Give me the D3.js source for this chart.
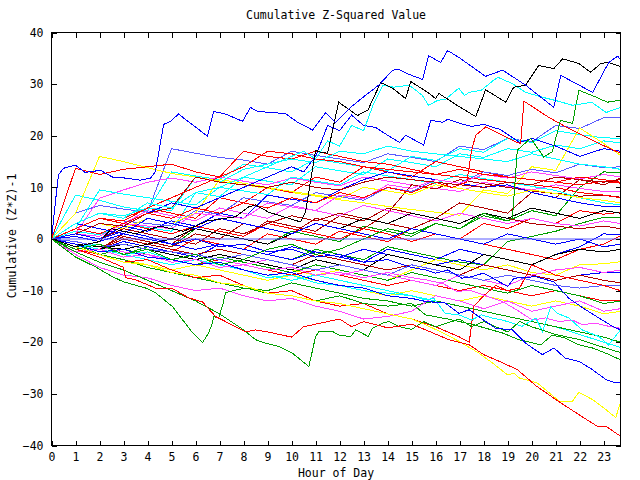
<!DOCTYPE html>
<html><head><meta charset="utf-8">
<script src="https://cdn.jsdelivr.net/npm/d3@7"></script>
<style>body{margin:0;background:#fff}svg{display:block}text{font-family:"DejaVu Sans Mono",monospace;font-size:11.5px;fill:#000}</style>
</head><body><svg id="c" width="640" height="480"></svg>
<script>
const titleText = "Cumulative Z-Squared Value";
const xLabelText = "Hour of Day";
const yLabelText = "Cumulative (Z*Z)-1";
const xTickValues = d3.range(0, 24);
const yTickValues = [-40, -30, -20, -10, 0, 10, 20, 30, 40];
const hourGrid = [0,1,2,3,4,5,6,7,8,9,10,11,12,13,14,15,16,17,18,19,20,21,22,23,23.7];

const R = "#ff0000", G = "#00a000", B = "#0000ff", M = "#ff44ff", C = "#00ffff",
      DR = "#b00000", Y = "#ffff00", K = "#000000", LB = "#5a5aff";

// Traced series: [hour, value] pairs
const sA = [[0,0],[0.17,7.5],[0.29,12.4],[0.5,13.7],[1,14.3],[1.4,12.9],[2.04,13.3],[2.54,12],[3.08,11.8],[3.7,11.4],[4.13,11.8],[4.33,13.1],[4.67,22.2],[4.96,22.8],[5.29,24.2],[6.5,19.9],[6.75,24.7],[7.25,24.2],[7.96,22.8],[8.29,25.5],[8.58,24.7],[9.75,24.3],[10.25,22.6],[10.88,21.1],[11.42,24.5],[11.83,22.6],[12.46,25.5],[12.96,27.4],[13.63,29.8],[14.21,32.7],[14.46,32.9],[14.88,31.9],[15.46,30.9],[15.71,35.5],[16.21,34.2],[16.5,36.5],[16.96,35.2],[18.08,31.5],[18.79,32.7],[19.75,29.8],[20.92,25.5],[21.21,31.7],[22.54,28.4],[23.21,34.2],[23.58,35.4],[23.7,34.8]];
const sB = [[0,0],[1,-1.5],[2,-0.5],[2.5,2],[3.5,1],[4.5,2.5],[5.5,1.5],[6.5,3.5],[7.67,4.3],[8.21,6.2],[8.5,6.6],[9.04,5.2],[9.67,4.3],[10.38,3.3],[10.58,5.2],[11,17.2],[11.21,16.8],[11.5,16.6],[11.96,26.5],[12.75,23.9],[12.96,24.5],[13.17,24.9],[13.71,30.3],[14.21,29.2],[14.75,27.2],[14.96,30.5],[15.67,28.4],[16,27.2],[16.13,28.2],[16.96,25.7],[17.67,23.7],[18.08,28.9],[18.92,26.5],[19.25,29.4],[19.75,29.8],[20.29,33.6],[20.92,33],[21.29,34.9],[21.96,34],[22.46,32.3],[22.88,34],[23.21,34.2],[23.7,33.4]];
const sC = [[0,0],[1,3],[2,5],[3,4],[4,7],[5,6],[6,9],[7,10],[8,12],[9,14],[10,16],[10.5,17],[11,15.5],[11.5,19],[12,18],[12.5,22],[13,21],[13.4,26],[13.8,29.8],[14.25,29.4],[14.9,29.8],[15.45,27.8],[15.7,25.9],[16.1,26.9],[16.4,27],[16.96,29.2],[17.2,27.8],[17.4,28.4],[17.9,28.8],[18.4,30.7],[18.6,31.3],[19.2,30.1],[19.75,28.4],[20.5,27.4],[21.1,26.7],[21.7,25.9],[22.25,26.3],[22.5,26.5],[23.1,24.5],[23.7,25.5]];
const sD = [[0,0],[1,-2],[2,-1],[3,-3],[4,-2],[5,-4],[6,-3],[7,-5],[8,-4],[9,-2],[10,-1],[11,-3],[12,-2],[13,0],[14,2],[15,1],[16,3],[17,2],[18,5],[19,3.5],[19.2,4],[19.4,17.2],[19.96,19.5],[20.5,15.9],[20.86,16.9],[21.2,23],[21.7,22.4],[21.97,28.8],[22.67,27.5],[23.15,26.5],[23.7,26.9]];
const sE = [[0,0],[1,2],[2,4],[3,3],[4,5],[5,4],[6,6],[7,5],[8,7],[9,6],[10,8],[11,7],[12,9],[13,8],[14,10],[15,9],[16,11],[16.67,10],[17.3,11],[17.5,17.2],[17.67,20.1],[18.08,21.7],[19.33,18.8],[19.54,18.5],[19.68,26.7],[20.7,23.6],[21.55,21.4],[22.8,18.5],[23.7,16.6]];
const sF = [[0,0],[1,-2],[2,-3.5],[3,-5.5],[3.08,-7.5],[3.5,-7.9],[4.33,-9.5],[5,-9.5],[5.71,-11.4],[6.29,-12.2],[6.83,-15],[7.25,-16],[8.08,-18],[8.5,-17.6],[9,-18],[10,-19],[10.5,-17],[11,-16.5],[12,-15.5],[12.5,-17],[13,-16],[14,-17.2],[15,-16.5],[15.58,-17.6],[16.55,-19.5],[17.4,-20.5],[18,-22.4],[18.8,-24],[19.4,-25.3],[20.2,-28.5],[21.1,-31.4],[21.76,-33.4],[22.4,-35.3],[22.74,-36.3],[23.1,-36.3],[23.7,-38.2]];
const sYb = [[0,0],[1,-1.5],[2,-3],[3,-4.5],[4,-5],[5,-6.5],[6,-7],[7,-8.5],[8,-9],[9,-10.5],[10,-11],[11,-12],[12,-12.5],[13,-13.5],[14,-14.5],[15,-15.5],[15.58,-16.6],[16.3,-18.2],[16.97,-19.8],[17.8,-22.1],[18.36,-24],[18.99,-26.3],[19.26,-26],[19.47,-26.9],[20.24,-27.9],[21.14,-31.4],[21.7,-31.4],[21.97,-29.7],[22.53,-31.1],[23.08,-33],[23.5,-34.6],[23.7,-31.7]];
const sBb = [[0,0],[1,-1],[2,-2.5],[3,-2],[4,-3.5],[5,-4],[6,-5],[7,-4.5],[8,-6],[9,-7],[10,-6.5],[11,-8],[12,-9],[13,-9.5],[14,-11],[15,-11.5],[15.58,-12.1],[16.4,-12.4],[16.97,-14.4],[17.4,-13.7],[18,-15.7],[18.5,-17.3],[19.2,-17.6],[19.75,-20.2],[20.45,-22.4],[20.93,-21.1],[21.4,-23.1],[21.97,-23.7],[22.53,-25.3],[23.08,-27.2],[23.5,-27.9],[23.7,-27.8]];
const sG1 = [[0,0],[1,-3.5],[1.83,-5.4],[2.54,-7.3],[3,-8.3],[3.92,-9.5],[4.33,-10.4],[5.04,-13.1],[5.88,-18.2],[6.29,-20.1],[6.54,-18.2],[6.71,-16.2],[6.75,-15],[6.96,-15.3],[7.13,-12.8],[7.25,-10.4],[7.67,-9.9],[8.08,-9.5],[9,-10.5],[10,-11],[11,-12],[12,-11],[13,-12.5],[14,-13],[15,-12.5],[15.58,-14.7],[16.5,-15.5],[17.5,-16.5],[18.78,-18.2],[19.47,-19.5],[20.38,-20.5],[20.86,-18.6],[21.4,-19.2],[21.97,-20.5],[22.53,-21.1],[23.08,-22.1],[23.7,-23.4]];
const sG2 = [[0,0],[1,-2.5],[2,-4.5],[3,-6],[4,-8],[5,-10],[6,-12],[7,-14.5],[8,-17.6],[8.5,-19.5],[8.92,-20.2],[9.47,-20.8],[10.03,-22.1],[10.72,-24.7],[11,-18.9],[11.14,-17.9],[11.7,-17.9],[11.97,-18.6],[12.46,-18.9],[12.67,-17.6],[13.2,-18.9],[13.36,-17.3],[13.78,-16.3],[14.05,-16],[14.5,-17],[15,-17.5],[15.5,-16],[16,-17],[17,-15.5],[17.5,-17],[18,-16],[19,-18],[19.5,-16],[20,-17],[21,-18.5],[22,-19.5],[23,-21],[23.7,-22]];
const sCb = [[0,0],[1,-1.5],[2,-1],[3,-3],[4,-2.5],[5,-4],[6,-5],[7,-4.5],[8,-6],[9,-7.5],[10,-7],[11,-8.5],[12,-9],[13,-10],[14,-10.5],[15,-11],[15.58,-11.8],[15.93,-11.5],[16.4,-14.4],[16.97,-14.7],[17.5,-15.7],[17.9,-14.7],[18.36,-15.3],[18.78,-15.7],[19.2,-16.3],[19.6,-16.9],[20.17,-15.3],[20.45,-17.9],[20.8,-13.1],[21.07,-14.4],[21.55,-15.3],[22.1,-17.6],[22.8,-18.9],[23.2,-20.5],[23.7,-17.6]];
const sBm = [[0,0],[1,1],[2,0],[3,1.5],[4,0.5],[5,-1],[6,0],[7,-1.5],[8,-1],[9,-2.5],[10,-2],[11,-3.5],[12,-3],[13,-4.5],[14,-4],[15,-5.5],[15.58,-6],[16,-6.6],[16.5,-6],[17.1,-7.6],[17.5,-7.3],[18,-6.6],[18.5,-7.9],[19,-9.2],[19.26,-7.6],[20.17,-7.3],[20.93,-8.3],[21.55,-11.5],[22.25,-13.7],[22.8,-15.3],[23.36,-16.9],[23.7,-17.6]];
const sMb = [[0,0],[0.5,-1.5],[1,-2.5],[2,-2],[3,-3.5],[4,-3],[5,-4.5],[6,-4],[7,-5.5],[8,-5],[9,-6],[10,-5.5],[11,-7],[12,-6.5],[13,-7.5],[14,-6.5],[15,-7.5],[15.58,-7.9],[16.3,-8.6],[16.9,-10.2],[17.4,-9.9],[18.78,-12.1],[19.47,-14],[20.03,-15.7],[20.58,-15.3],[21.14,-16],[21.7,-15.7],[22.1,-16.6],[22.67,-16.3],[23.2,-16.9],[23.7,-17.3]];
const sH = [[0,0],[1,2],[2,4],[3,3],[4,5],[5,7],[6,6],[7,8],[8,10],[9,12],[10,14],[10.5,13],[11,16],[11.5,22],[12,21],[12.5,24],[13,22],[13.5,21.6],[14,20.1],[14.5,18.7],[14.75,20.1],[15.5,18.2],[15.8,23],[16.3,22.6],[16.5,23.2],[17,22.4],[17.5,21.8],[18,22.2],[18.7,21.2],[19.5,18.7],[20,19.5],[21,18],[22,16],[23,17.5],[23.7,17]];
const sR2 = [[0,0],[1,-2],[2,-3],[3,-4.5],[4,-4],[5,-6],[6,-7.5],[7,-7],[8,-9],[9,-10.5],[10,-10],[11,-12],[12,-13],[13,-12.5],[14,-14.5],[15,-15.5],[16,-17],[17,-19],[17.4,-20],[17.6,-13],[18,-11],[18.5,-9],[19,-10],[19.5,-9.5],[20,-5],[21,-7],[22,-8],[23,-9],[23.7,-10]];

// Hourly series (values at hourGrid)
const g1 = [0,5,6.5,5.8,5.2,17.5,16.6,15.8,15.3,14.5,17,16.2,15.5,14.8,16.5,15.8,15,18,17.3,19.5,18.8,22,21.4,23.5,23.6];
const g2 = [0,8.5,7.5,6.2,5.5,13,12.2,11.5,14.5,13.8,13,15.5,14.7,14,13.2,16,15.2,17.5,16.8,19.5,18.7,21,20.2,19.6,19.5];
const g3 = [0,1.5,0.8,3,2.2,1.5,9,8.2,12,11.2,10.5,14,13.2,12.5,15.5,14.8,14,16.5,15.8,17.5,16.8,18.2,17.5,19,18.6];
const g4 = [0,5,16,15,13.8,12.7,12,11.2,10.5,9.8,9,8.3,7.6,7,6.3,5.7,5.2,4.6,9.5,8.8,14,13.3,21.5,18.5,16.2];
const g5 = [0,-1,-2,0.5,-0.5,-1.5,2,1,0,-1,1.5,0.5,-0.5,2.5,1.5,0.5,3,2,4.5,3.5,5.5,4.5,10,13,12.8];
const g6 = [0,-1,-2,1,0,-1,2.5,1.5,0.5,3.5,2.5,1.5,4.5,3.5,6,5,4,7,6,5,9,8,11.5,10.5,11.8];
const g7 = [0,3,5,4,6,5,4,8,7,10,9,12,11,14,13,12,15,14,13,12,11.5,11,10.5,11.2,10.8];
const g8 = [0,1,7.9,9.5,11,11.8,11,12,11.2,10.5,11.8,11,10.3,12,11.2,10.5,9.8,9.2,11,10.2,9.5,10.5,9.8,9.2,9.1];
const g9 = [0,-1,-2,0.5,-0.5,-1.5,1,0,3,2,1,4,3,2,5,10.5,9.7,11.5,10.7,10,9.3,8.8,8.3,8.5,8.1];
const g10 = [0,2,9.5,8.7,8,7.3,6.6,10,9.3,8.6,12,11.2,10.5,13,12.2,11.5,10.8,12.5,11.7,11,10.2,9.4,8,7,6.6];
const g11 = [0,1,0,2.5,1.5,3.5,2.5,5,4,8.5,7.7,7,9.5,11.5,13,12.2,11.5,10.8,10,10.5,9,8,7,6.3,6.2];
const g12 = [0,-1,-2,-0.5,-1.5,-2.5,0,-1,-2,1,0,-1,1.5,0.5,-0.5,2,1,0,3,2,4,3,5.5,4.8,5.2];
const g13 = [0,-1,-2,-3,-1.5,-2.5,-3.5,-1,-2,-3,-4,-2,-3,-4,-1.5,-2.5,-3.5,-4.5,-5,-0.5,0.5,1.5,3,4.2,4.1];
const g14 = [0,-1,-2,-0.5,-1.5,-2.5,-3.5,-1,-2,-3,-4,-2.5,-3.5,-4.5,-2,-3,-4,-2,-3,-4,-5,-3,-1.5,1,0.8];
const g15 = [0,2,1,3,2,1,2.5,1.5,0.5,3,2,1,0,2,1,-0.5,1,0,-1,-2,-3,-4,-2,-1,0.6];
const g16 = [0,-1,-2,-1,-2,-3,-4,-5,-4,-5,-6,-7,-6,-7,-8,-6,-4,-5,-6,-5,-6.5,-7,-5,-4.8,-4.4];
const g17 = [0,0.5,-0.5,1,0,-1,-2,-1,-2,-3,-1.5,-2.5,-3.5,-2,-3,-4,-5,-4,-5,-6,-7,-8,-7,-6.5,-6.4];
const g18 = [0,-1,-2,0,-1,-2,-3,-2,-3,-4,-5,-3,-4,-5,-6,-5,-6,-7,-5,-6,-7,-8,-7,-8,-8.5];
const g19 = [0,-2,-3,-2,-3,-4,-5,-4,-5,-6,-7,-6,-7,-8,-9,-8,-9,-10,-9,-10,-11,-10,-11,-12,-12];
const g20 = [0,-1,-2,-1,-2,-3,-4,-3,-4,-5,-6,-4,-5,-6,-3,-4,-5,-6,-3,-4,-5,-3,-2,-2.5,-2];
const g21 = [0,2,4,3,5.5,4.5,3.5,6,5,4,6.5,5.5,4.5,6.5,5.5,4.5,3.5,5,4,3,4,3,2.5,3.5,3];
const g22 = [0,2,4,3.5,3,2.5,5.5,4.8,8,7.2,6.5,9,8.2,7.5,10,9.2,11.5,10.8,13,12.3,13.5,12.8,14.5,13.8,14];
const g23 = [0,-1,-3,-2,-3,-4,-5,-3.5,-4.5,-5.5,-6.5,-5,-6,-7,-8,-6.5,-7.5,-8.5,-9.5,-10.5,-9,-10,-11,-12.5,-12];
const g24 = [0,-2,-3,-4,-5,-6,-5,-6,-7,-8,-7,-8,-9,-10,-11,-10,-11,-12,-11,-12,-13,-12,-13,-14.5,-14];
const g25 = [0,-1,-2,-3,-4,-5,-4,-5,-6,-7,-8,-7,-8,-9,-10,-11,-12,-13,-14,-15,-16,-17,-18.5,-20,-21];
const g26 = [0,1,3,2,4,3,5,11.5,10.8,10,9.2,8.5,7.8,10,9.3,8.6,10.5,9.8,9,8.3,9.5,8.8,8,7.5,7];
const g27 = [0,-1,-1.5,-2.5,-3,-4,-3,-4,-5,-4,-5,-6,-7,-6,-7,-8,-9,-7,-8,-9,-7,-6,-5.5,-6.5,-6];
const g28 = [0,1,0,2,1,0,-1,2,1,3,4.5,3.5,5,4,3,2,4,3,5,4,3,2.5,2,2.5,2];
const g29 = [0,-0.5,-1.5,-1,-2,-2.5,-3,-4,-3,-4,-5,-6,-5,-6,-7,-5,-6,-7,-8,-7,-8,-9,-9.5,-9,-9];
const g30 = [0,13.7,12.5,13.5,14,14.5,13,12,17,16,15.5,17,16,15,14.5,13.5,12.5,12,11.5,11,10.5,10,9,8.5,8];
const g31 = [0,-1.5,-3,-4,-5.5,-6.5,-7.5,-8.5,-9.5,-10,-8.5,-9.5,-10.5,-11.5,-12,-13,-12,-13,-14,-15,-16,-17,-18,-19,-20];
const g32 = [0,1,0.5,3,2.5,2,5,4.5,4,7,6.2,5.5,8.5,7.8,10.5,9.8,11.5,10.8,12.5,11.8,13,12.3,11.6,12.5,12];
const g33 = [0,-1,-1.5,-2,-1,0,2,1,0,-1,1,3,2,4,3,5,4,3,5,4,6,5,4,5.5,5];
const g34 = [0,3,2,1,4,3,2,4,3,2,1,3,2,1,0,2,1,0,-1,1,0,-1,0,-1.5,-1];
const g35 = [0,-3,-5.5,-7,-7.5,-9,-10,-9.5,-11,-12,-11.5,-13,-14,-15.5,-15,-14,-11,-12,-13.5,-12,-14,-13,-12,-14,-13.5];
const g36 = [0,3,5,4.5,6,5.5,12,11,13.5,14.5,15.5,14.8,17,16.5,18,17,16.5,16,15.5,15,16.5,15.5,14.5,14,13.5];
const g37 = [0,1,3,2.5,5,6,12,11,10.5,10,11,10,9.5,11,12,11.5,11,10.5,10,11,10.5,12,11.5,11,11.5];
const g38 = [0,2,4,3.5,6,8,10,12,14,17,16.5,15.5,15,14,13.5,13,12.5,13.5,12.5,12,11.5,11,12,11.5,11];

const hourlySeries = [g1,g2,g3,g4,g5,g6,g7,g8,g9,g10,g11,g12,g13,g14,g15,g16,g17,g18,g19,g20,g21,g22,g23,g24,g25,g26,g27,g28,g29,g30,g31,g32,g33,g34,g35,g36,g37,g38];
const hourlyColors = [LB,C,C,Y,G,DR,R,M,DR,C,B,R,G,B,R,Y,B,DR,R,K,M,LB,G,Y,C,Y,M,DR,LB,R,G,M,K,B,M,C,DR,R];
const tracedSeries = [sR2,sH,sMb,sBm,sCb,sG2,sG1,sBb,sYb,sF,sE,sD,sC,sB,sA];
const tracedColors = [R,B,M,B,C,G,G,B,Y,R,R,G,C,K,B];

const svg = d3.select("#c");
const L = 51.5, Rt = 620.5, T = 32.5, Bt = 445.5;
const x = d3.scaleLinear().domain([0, 23.7]).range([L, Rt]);
const y = d3.scaleLinear().domain([-40, 40]).range([Bt, T]);

svg.append("defs").append("clipPath").attr("id","clip")
  .append("rect").attr("x", L).attr("y", T).attr("width", Rt - L).attr("height", Bt - T);

const line = d3.line().x(d => x(d[0])).y(d => y(d[1]));
const g = svg.append("g").attr("clip-path", "url(#clip)");

const all = [];
hourlySeries.forEach((vals, i) => all.push({pts: vals.map((v, j) => [hourGrid[j], v]), color: hourlyColors[i]}));
tracedSeries.forEach((pts, i) => all.push({pts, color: tracedColors[i]}));

g.selectAll("path.s").data(all).join("path").attr("class","s")
  .attr("d", d => line(d.pts)).attr("fill","none").attr("stroke", d => d.color)
  .attr("stroke-width", 1).attr("shape-rendering","crispEdges");

g.append("path").attr("d", line([[0,0],[23.7,0]])).attr("stroke", LB).attr("stroke-width",1).attr("fill","none");

const fmt = d3.format("d");
const ax = (a) => a.tickSizeOuter(0);
svg.append("g").attr("transform", `translate(0,${Bt})`)
  .call(ax(d3.axisBottom(x).tickValues(xTickValues).tickFormat(fmt).tickSizeInner(-5).tickPadding(7)));
svg.append("g").attr("transform", `translate(0,${T})`)
  .call(ax(d3.axisTop(x).tickValues(xTickValues).tickFormat("").tickSizeInner(-5)));
svg.append("g").attr("transform", `translate(${L},0)`)
  .call(ax(d3.axisLeft(y).tickValues(yTickValues).tickFormat(fmt).tickSizeInner(-5).tickPadding(8)));
svg.append("g").attr("transform", `translate(${Rt},0)`)
  .call(ax(d3.axisRight(y).tickValues(yTickValues).tickFormat("").tickSizeInner(-5)));
svg.selectAll(".domain").remove();
svg.selectAll(".tick line").attr("stroke","#000").attr("shape-rendering","crispEdges");
svg.selectAll(".tick text").attr("font-family", null).attr("font-size", null).style("fill","#000");

svg.append("rect").attr("x", L).attr("y", T).attr("width", Rt - L).attr("height", Bt - T)
  .attr("fill","none").attr("stroke","#000").attr("shape-rendering","crispEdges");

svg.append("text").attr("x", 336).attr("y", 19).attr("text-anchor","middle").text(titleText);
svg.append("text").attr("x", 336).attr("y", 477).attr("text-anchor","middle").text(xLabelText);
svg.append("text").attr("transform","translate(16,236) rotate(-90)").attr("text-anchor","middle").text(yLabelText);
</script></body></html>
